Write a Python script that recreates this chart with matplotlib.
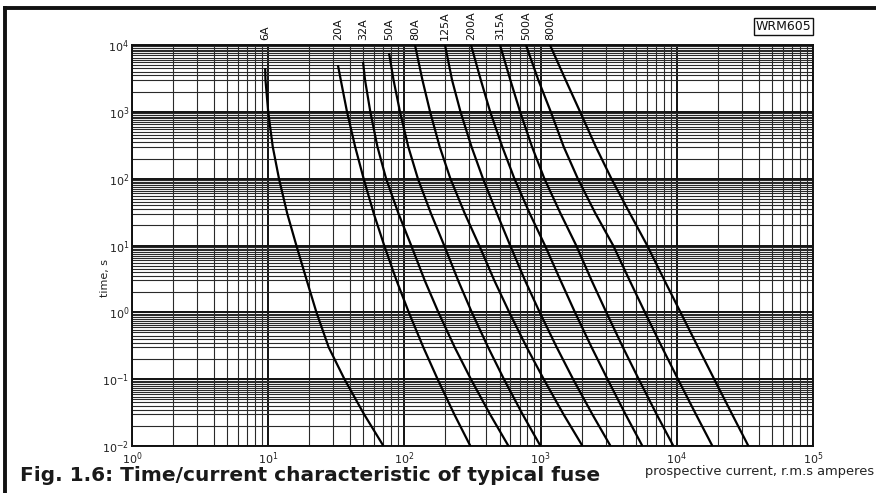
import matplotlib
matplotlib.use("Agg")
import matplotlib.pyplot as plt
import matplotlib.transforms as mtransforms
from matplotlib.lines import Line2D
from matplotlib.ticker import LogLocator, NullFormatter

# Fuse ratings and their time/current characteristics (time in s, current in A rms)
fuse_labels = ["6A", "20A", "32A", "50A", "80A", "125A", "200A", "315A", "500A", "800A"]

# common time steps below each curve's starting point
t_steps = [3000, 1000, 300, 100, 30, 10, 3, 1, 0.3, 0.1, 0.03, 0.01]

t_6a = [4500] + t_steps
i_6a = [9.5, 9.55, 10.0, 10.8, 12.0, 13.8, 16.1, 19.2, 22.6, 27.8, 36.3, 50.5, 70.2]

t_20a = [5000] + t_steps
i_20a = [32.5, 34.1, 37.9, 43.5, 50.2, 59.6, 71.1, 87.5, 107.7, 137.7, 175.3, 232, 305]

t_32a = [5600] + t_steps
i_32a = [49.7, 51.4, 56.2, 63.4, 73.4, 90.5, 112.2, 141, 177.7, 234, 307.7, 424.5, 581]

t_50a = [7600] + t_steps
i_50a = [77.1, 83.2, 92.8, 106.8, 125.6, 156.8, 196, 248, 312.6, 411.7, 537.8, 736, 998]

t_80a = [10000] + t_steps
i_80a = [119.6, 135.6, 154.4, 181.6, 217.6, 277.7, 354.2, 457.2, 589, 790.7, 1054, 1470, 2030]

t_125a = [10000] + t_steps
i_125a = [198.7, 223.7, 258.2, 311, 377.6, 478.6, 598, 768.5, 984.9, 1313, 1732, 2393, 3261]

t_200a = [10000] + t_steps
i_200a = [308.3, 363.8, 426.6, 523.3, 642.1, 833, 1077, 1400, 1788, 2368, 3099, 4194, 5590]

t_315a = [10000] + t_steps
i_315a = [503.4, 599.3, 707.2, 864.9, 1066, 1402, 1826, 2368, 3037, 4021, 5253, 7096, 9441]

t_500a = [10000] + t_steps
i_500a = [781, 961.8, 1188, 1478, 1876, 2530, 3412, 4504, 5832, 7788, 10200, 13790, 18260]

t_800a = [10000] + t_steps
i_800a = [1172, 1526, 1950, 2543, 3310, 4534, 6063, 8124, 10650, 14330, 18820, 25430, 33550]

curves = [
    (i_6a, t_6a), (i_20a, t_20a), (i_32a, t_32a), (i_50a, t_50a),
    (i_80a, t_80a), (i_125a, t_125a), (i_200a, t_200a), (i_315a, t_315a),
    (i_500a, t_500a), (i_800a, t_800a),
]

fig = plt.figure(figsize=(8.76, 4.93), dpi=100)
ax = fig.add_axes([132 / 876, 1 - 446 / 493, 681 / 876, 401 / 493])
ax.set_xscale("log")
ax.set_yscale("log")
ax.set_xlim(1, 1e5)
ax.set_ylim(1e-2, 1e4)

# log-paper grid
ax.xaxis.set_major_locator(LogLocator(base=10, numticks=20))
ax.xaxis.set_minor_locator(LogLocator(base=10, subs=[2, 3, 4, 5, 6, 7, 8, 9], numticks=100))
ax.yaxis.set_major_locator(LogLocator(base=10, numticks=20))
ax.yaxis.set_minor_locator(LogLocator(
    base=10, subs=[2, 3, 3.5, 4, 4.5, 5, 5.5, 6, 6.5, 7, 7.5, 8, 8.5, 9, 9.5], numticks=100))
ax.xaxis.set_minor_formatter(NullFormatter())
ax.yaxis.set_minor_formatter(NullFormatter())
ax.grid(which="major", color="#111111", lw=1.4)
ax.grid(which="minor", color="#2a2a2a", lw=0.8)
ax.set_axisbelow(True)
ax.tick_params(which="both", length=0, labelsize=8, pad=2, colors="#222222")
ax.tick_params(axis="x", pad=3)
for sp in ax.spines.values():
    sp.set_color("#111111")
    sp.set_linewidth(1.4)

for cur, tim in curves:
    ax.plot(cur, tim, color="black", lw=1.6, solid_joinstyle="round",
            solid_capstyle="butt", zorder=3)

# rating labels above the top edge, each at the start of its curve
trans = mtransforms.blended_transform_factory(ax.transData, ax.transAxes)
for (cur, tim), lab in zip(curves, fuse_labels):
    ax.text(cur[0], 1.012, lab, transform=trans, rotation=90, ha="center", va="bottom",
            fontsize=8, color="#111111")

ax.set_ylabel("time, s", fontsize=8, color="#222222")
ax.yaxis.set_label_coords(-0.033, 0.42)

fig.text(0.998, 1 - 472 / 493, "prospective current, r.m.s amperes", ha="right", va="center",
         fontsize=9.4, color="#222222")

fig.text(20 / 876, 1 - 481 / 493, "Fig. 1.6: Time/current characteristic of typical fuse",
         ha="left", va="baseline", fontsize=14.5, fontweight="bold", family="DejaVu Sans",
         color="#1a1a1a")

fig.text(783.5 / 876, 1 - 26.5 / 493, "WRM605", ha="center", va="center", fontsize=9,
         color="#111111",
         bbox=dict(boxstyle="square,pad=0.15", fc="white", ec="#111111", lw=1.0))

# page frame (left and top rules)
fig.add_artist(Line2D([5 / 876, 5 / 876], [0, 1 - 8 / 493], transform=fig.transFigure,
                      color="#111111", lw=2.8))
fig.add_artist(Line2D([5 / 876, 1], [1 - 8 / 493, 1 - 8 / 493], transform=fig.transFigure,
                      color="#111111", lw=2.8))

fig.savefig("out.png", dpi=100, facecolor="white")
